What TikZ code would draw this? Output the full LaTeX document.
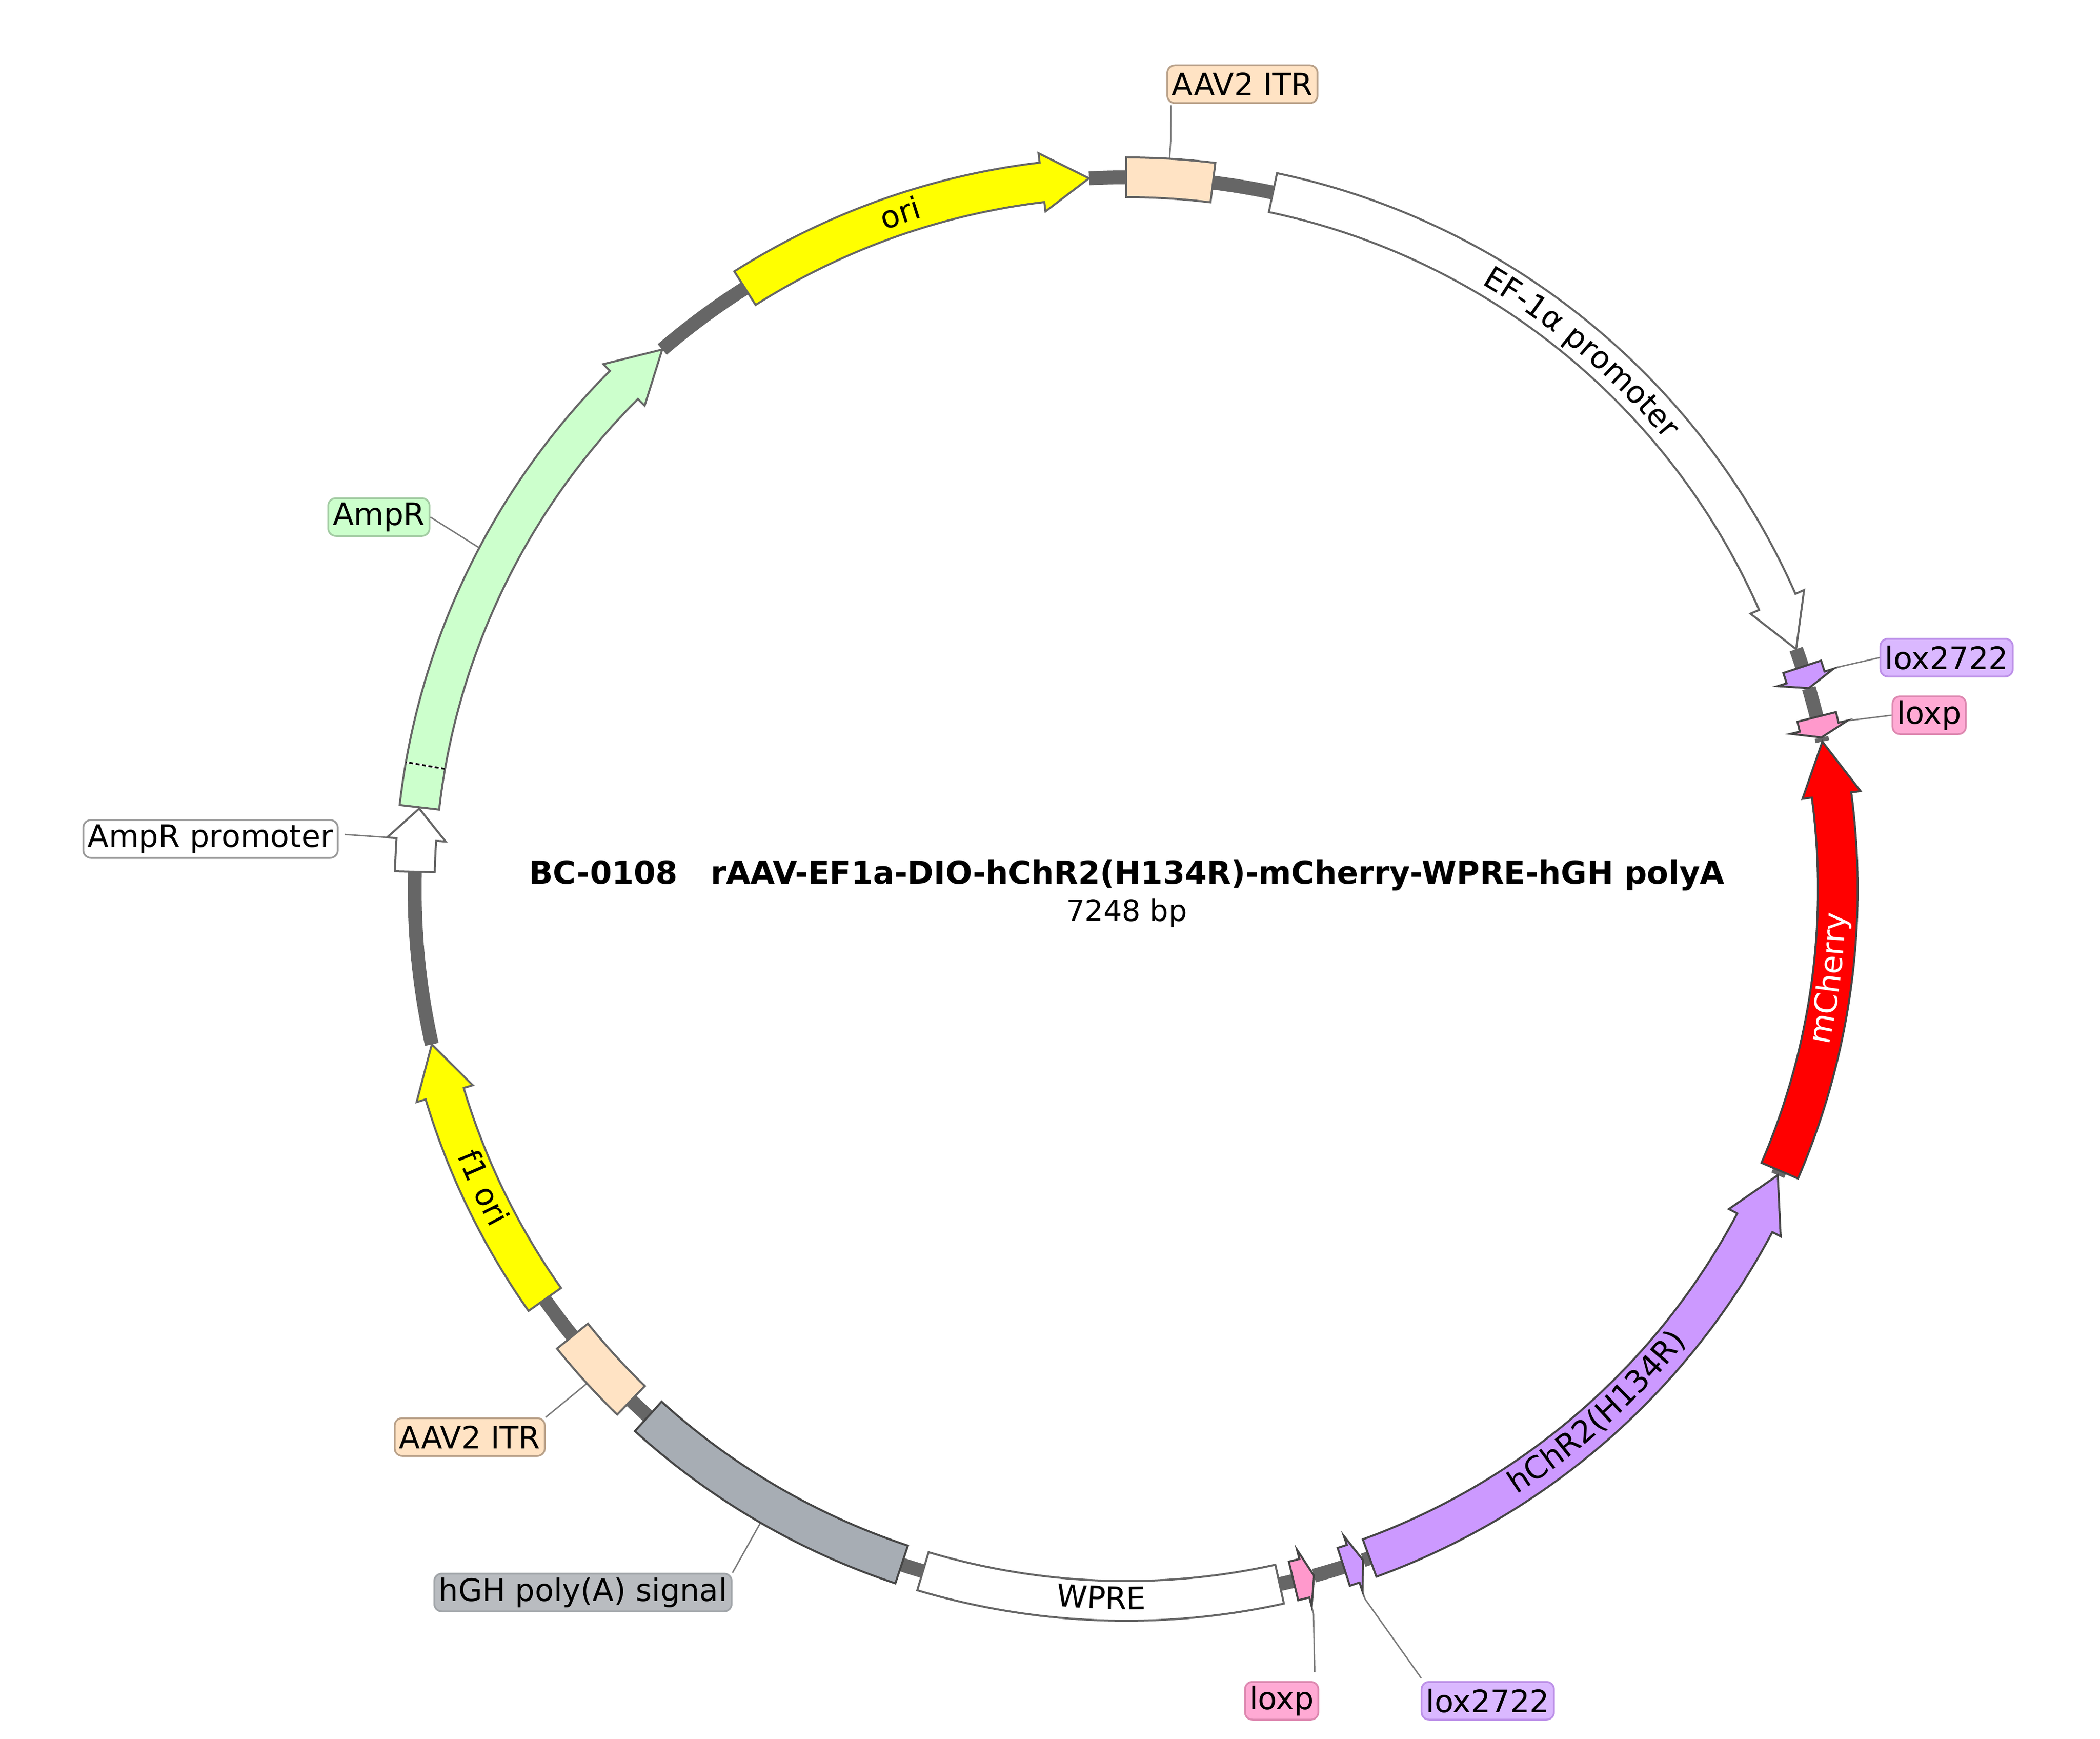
\documentclass[tikz,border=0pt]{standalone}
\usepackage{fontspec}
\setmainfont{DejaVu Sans}
\usepackage{xcolor}
\usepackage{tikz}
\usetikzlibrary{calc}
\usetikzlibrary{decorations.text}
\newcommand{\lblfont}{\fontsize{17.7}{20}\selectfont}
% style, tail angle, head base angle, tip angle
\newcommand{\arcarrow}[4]{\draw[#1] (#2:13.93) arc[start angle=#2, end angle=#3, radius=13.93] -- (#3:13.74) -- (#4:14.33) -- (#3:14.92) -- (#3:14.73) arc[start angle=#3, end angle=#2, radius=14.73] -- cycle;}
\newcommand{\arcbox}[3]{\draw[#1] (#2:13.93) arc[start angle=#2, end angle=#3, radius=13.93] -- (#3:14.73) arc[start angle=#3, end angle=#2, radius=14.73] -- cycle;}
% text, start angle, end angle, radius
\newcommand{\arctext}[4]{\path[decorate, decoration={text along path, text align=center, text={#1}}] (#2:#4) arc[start angle=#2, end angle=#3, radius=#4];}
\definecolor{oriyellow}{HTML}{FFFF00}
\definecolor{cherryred}{HTML}{FF0000}
\definecolor{peach}{HTML}{FFE3C4}
\definecolor{peachline}{HTML}{B8A088}
\definecolor{ampgreen}{HTML}{CCFFCC}
\definecolor{ampline}{HTML}{A3CCA3}
\definecolor{lilac}{HTML}{CC99FF}
\definecolor{lilaclbl}{HTML}{DAB8FF}
\definecolor{lilacline}{HTML}{BC90E8}
\definecolor{rose}{HTML}{FF99CC}
\definecolor{roselbl}{HTML}{FFAAD4}
\definecolor{roseline}{HTML}{DD88B0}
\definecolor{polya}{HTML}{A7ADB4}
\definecolor{polyalbl}{HTML}{B9BCC0}
\definecolor{polyaline}{HTML}{A0A4A8}

\begin{document}
\begin{tikzpicture}[
        backbone/.style={line width=0.28cm, color=black!60},
        feat/.style={draw=black!60, line width=0.04cm, line join=miter},
        darkfeat/.style={draw=black!73, line width=0.04cm, line join=miter},
        leader/.style={draw=black!52, line width=0.028cm},
        lbl/.style={rounded corners=0.15cm, line width=0.035cm, font=\lblfont, text=black, inner xsep=0.09cm, inner ysep=0pt, minimum height=0.76cm}
    ]
        \useasboundingbox (-22.68,-17.10) rectangle (19.61,17.90);
        \foreach \a/\b in {93/90, 83/78.1, 19.7/18.2, 16.4/14, 12.3/11.96, -23.3/-23.7, -70/-70.55, -72.2/-74.7, -76.4/-77.55, 253.4/251.6, 227.8/225.9, 218.9/215.2, 192.6/178.6, 130.7/122.4}
            \draw[backbone] (\a:14.33) arc[start angle=\a, end angle=\b, radius=14.33];
        \node (title) at (0.01,0.28) {\fontsize{18.07}{20}\selectfont\bfseries BC-0108\ \ \ rAAV-EF1a-DIO-hChR2(H134R)-mCherry-WPRE-hGH polyA};
        \node (size) at (0.01,-0.48) {\fontsize{16.8}{20}\selectfont 7248 bp};
        \node[lbl, draw=peachline, fill=peach] (itrTopLbl) at (2.34,16.205) {AAV2 ITR};
        \node[lbl, draw=lilacline, fill=lilaclbl] (loxTopLbl) at (16.52,4.66) {lox2722};
        \node[lbl, draw=roseline, fill=roselbl] (loxpTopLbl) at (16.17,3.50) {loxp};
        \node[lbl, draw=ampline, fill=ampgreen] (ampLbl) at (-15.05,7.49) {AmpR};
        \node[lbl, draw=black!40, fill=white] (ampProLbl) at (-18.44,1.01) {AmpR promoter};
        \node[lbl, draw=peachline, fill=peach] (itrLowLbl) at (-13.22,-11.03) {AAV2 ITR};
        \node[lbl, draw=polyaline, fill=polyalbl] (polyaLbl) at (-10.94,-14.16) {hGH poly(A) signal};
        \node[lbl, draw=roseline, fill=roselbl] (loxpLowLbl) at (3.13,-16.34) {loxp};
        \node[lbl, draw=lilacline, fill=lilaclbl] (loxLowLbl) at (7.28,-16.34) {lox2722};
        \coordinate (itrTopEnd) at (86.6:14.73);
        \coordinate (itrTopBend) at (86.6:15.13);
        \coordinate (loxTopEnd) at (17.3:14.91);
        \coordinate (loxTopBend) at (17.3:15.08);
        \coordinate (loxpTopEnd) at (13.15:14.89);
        \coordinate (ampEnd) at (152.2:14.71);
        \coordinate (ampProEnd) at (176:14.91);
        \coordinate (ampProBend) at (176:15.1);
        \coordinate (itrLowEnd) at (222.5:14.73);
        \coordinate (polyaEnd) at (240:14.73);
        \coordinate (loxpLowEnd) at (-75.5:14.91);
        \coordinate (loxpLowBend) at (-75.5:15.06);
        \coordinate (loxLowEnd) at (-71.4:14.91);
        \coordinate (loxLowBend) at (-71.4:15.08);
        \draw[leader] ([xshift=0.09cm, yshift=-0.03cm]itrTopLbl.south west) -- (itrTopBend) -- (itrTopEnd);
        \draw[leader] (loxTopLbl.west) -- (loxTopBend) -- (loxTopEnd);
        \draw[leader] (loxpTopLbl.west) -- (loxpTopEnd);
        \draw[leader] (ampLbl.east) -- (ampEnd);
        \draw[leader] ([xshift=0.12cm, yshift=0.09cm]ampProLbl.east) -- (ampProBend) -- (ampProEnd);
        \draw[leader] (itrLowLbl.north east) -- (itrLowEnd);
        \draw[leader] (polyaLbl.north east) -- (polyaEnd);
        \draw[leader] ([xshift=-0.09cm, yshift=0.18cm]loxpLowLbl.north east) -- (loxpLowBend) -- (loxpLowEnd);
        \draw[leader] ([xshift=0.01cm, yshift=0.06cm]loxLowLbl.north west) -- (loxLowBend) -- (loxLowEnd);
        \arcarrow{feat, fill=oriyellow}{122.4}{96.8}{93}
        \arcbox{feat, fill=peach}{90}{83}
        \arcarrow{feat, fill=white}{78.1}{23.8}{19.7}
        \arcarrow{darkfeat, fill=lilac}{18.2}{17.3}{16.4}
        \arcarrow{darkfeat, fill=rose}{14}{13.15}{12.3}
        \arcarrow{darkfeat, fill=cherryred}{-23.3}{7.6}{11.96}
        \arcarrow{darkfeat, fill=lilac}{-70}{-27.95}{-23.7}
        \arcarrow{darkfeat, fill=lilac}{-72.2}{-71.4}{-70.55}
        \arcarrow{darkfeat, fill=rose}{-76.4}{-75.5}{-74.7}
        \arcbox{feat, fill=white}{282.45}{253.4}
        \arcbox{darkfeat, fill=polya}{251.6}{227.8}
        \arcbox{feat, fill=peach}{225.9}{218.9}
        \arcarrow{feat, fill=oriyellow}{215.2}{196.7}{192.6}
        \arcarrow{feat, fill=white}{178.6}{176}{173.5}
        \arcarrow{feat, fill=ampgreen}{173.4}{134.9}{130.7}
        \draw[white, line width=0.035cm] (170:13.93) -- (170:14.73);
        \draw[black, line width=0.035cm, dash pattern=on 0.08cm off 0.05cm] (170:13.93) -- (170:14.73);
        \arctext{|\lblfont|ori}{123}{94}{14.13}
        \arctext{|\lblfont|EF-1α promoter}{75}{24.4}{14.13}
        \arctext{|\lblfont\color{white}|mCherry}{-22.4}{8}{14.5}
        \arctext{|\lblfont|hChR2(H134R)}{-69}{-27}{14.5}
        \arctext{|\lblfont|WPRE}{254}{282}{14.5}
        \arctext{|\lblfont|f1 ori}{196.4}{213.4}{14.5}
\end{tikzpicture}
\end{document}
